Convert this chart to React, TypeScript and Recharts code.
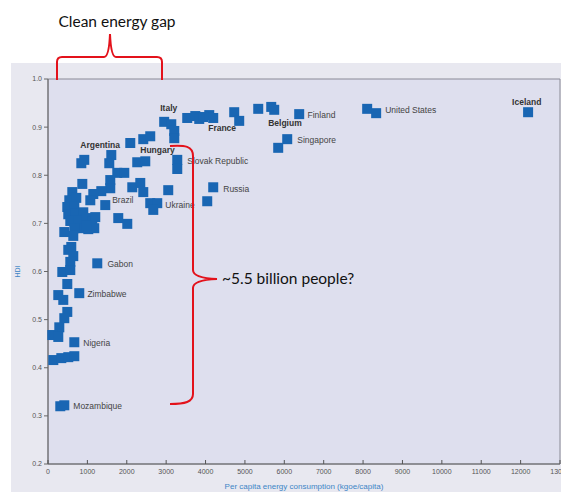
import { ScatterChart, Scatter, XAxis, YAxis, ZAxis, ReferenceArea } from "recharts"

// energy use (kgoe/capita) vs HDI
const countryPoints: [number, number][] = [
  [2950, 0.911], [3130, 0.906], [3206, 0.892], [3206, 0.877],
  [3535, 0.919], [3740, 0.923], [3840, 0.917], [3940, 0.921], [4094, 0.925], [4195, 0.919],
  [4728, 0.931], [4855, 0.913],
  [5338, 0.938], [5668, 0.942], [5744, 0.936],
  [6378, 0.927],
  [8104, 0.938], [8332, 0.929],
  [12190, 0.931],
  [6074, 0.875], [5845, 0.857],
  [2089, 0.867], [2419, 0.875], [2596, 0.881],
  [3282, 0.832], [3282, 0.813],
  [4195, 0.775], [4043, 0.746],
  [3053, 0.769], [2596, 0.742], [2774, 0.742], [2673, 0.728],
  [2140, 0.775], [2343, 0.784], [2419, 0.765],
  [1759, 0.805], [1937, 0.805],
  [1581, 0.79], [1581, 0.773],
  [1607, 0.842], [1556, 0.825],
  [2266, 0.827], [2470, 0.829],
  [1454, 0.738], [1784, 0.711], [2013, 0.699],
  [1353, 0.767], [1150, 0.761], [1074, 0.748],
  [846, 0.825], [921, 0.832],
  [871, 0.782], [617, 0.765],
  [541, 0.748], [718, 0.753], [490, 0.734], [668, 0.736], [515, 0.719], [693, 0.721],
  [896, 0.723], [566, 0.705], [769, 0.707], [972, 0.711], [1124, 0.703], [1200, 0.713],
  [820, 0.69], [1023, 0.688], [1175, 0.69], [668, 0.69], [972, 0.696],
  [414, 0.682], [642, 0.674], [591, 0.651],
  [515, 0.645], [642, 0.632], [566, 0.62],
  [1251, 0.617],
  [363, 0.599], [566, 0.603],
  [490, 0.574],
  [261, 0.551], [388, 0.541],
  [794, 0.555],
  [490, 0.516], [414, 0.503], [287, 0.484],
  [109, 0.468], [261, 0.464],
  [668, 0.453],
  [135, 0.416], [338, 0.42], [515, 0.422], [668, 0.424],
  [312, 0.32], [414, 0.322],
]

// where each country name starts (x, y in data units)
const countryLabels: { name: string; x: number; y: number }[] = [
  { name: "Italy", x: 2850, y: 0.94 },
  { name: "France", x: 4068, y: 0.898 },
  { name: "Belgium", x: 5591, y: 0.909 },
  { name: "Finland", x: 6590, y: 0.925 },
  { name: "United States", x: 8560, y: 0.936 },
  { name: "Iceland", x: 11784, y: 0.952 },
  { name: "Singapore", x: 6330, y: 0.873 },
  { name: "Argentina", x: 820, y: 0.863 },
  { name: "Hungary", x: 2343, y: 0.852 },
  { name: "Slovak Republic", x: 3536, y: 0.83 },
  { name: "Russia", x: 4450, y: 0.771 },
  { name: "Ukraine", x: 2980, y: 0.738 },
  { name: "Brazil", x: 1630, y: 0.748 },
  { name: "Gabon", x: 1510, y: 0.615 },
  { name: "Zimbabwe", x: 1000, y: 0.553 },
  { name: "Nigeria", x: 896, y: 0.451 },
  { name: "Mozambique", x: 643, y: 0.32 },
]

const boldNames = ["Italy", "France", "Belgium", "Argentina", "Hungary", "Iceland"]

const xTicks = [0, 1000, 2000, 3000, 4000, 5000, 6000, 7000, 8000, 9000, 10000, 11000, 12000, 13000]
const yTicks = [0.2, 0.3, 0.4, 0.5, 0.6, 0.7, 0.8, 0.9, 1.0]

const pointData = countryPoints.map(([energy, hdi]) => ({ energy, hdi }))
const labelData = countryLabels.map((l) => ({ energy: l.x, hdi: l.y, name: l.name }))

const BLUE = "#1966b3"

function XTick({ x, y, payload }: any) {
  return (
    <g>
      <line x1={x} x2={x} y1={y - 4} y2={y} stroke="#555" />
      <text x={x} y={y + 10} textAnchor="middle" fontSize={7} fill="#555" fontFamily="Liberation Sans">
        {payload.value}
      </text>
    </g>
  )
}

function SquareDot({ cx, cy }: any) {
  return <rect x={cx - 5} y={cy - 5} width={10} height={10} fill={BLUE} />
}

function NameText({ cx, cy, payload }: any) {
  const bold = boldNames.includes(payload.name)
  return (
    <text
      x={cx}
      y={cy}
      dominantBaseline="central"
      fontSize={8.5}
      fontWeight={bold ? "bold" : "normal"}
      fill={bold ? "#333" : "#444"}
      fontFamily="Liberation Sans"
    >
      {payload.name}
    </text>
  )
}

export default function App() {
  return (
    <div style={{ position: "relative", width: 561, height: 492, background: "#fff", overflow: "hidden" }}>
      <style>{`body{margin:0}`}</style>
      <div style={{ position: "absolute", left: 11, top: 63, right: 0, bottom: 0, background: "#e8e8f0" }} />
      <div style={{ position: "absolute", left: 0, top: 0 }}>
        <ScatterChart width={561} height={492} margin={{ top: 79, right: 1, left: 12, bottom: 0 }}>
          <ReferenceArea x1={0} x2={13000} y1={0.2} y2={1.0} fill="#dedfee" fillOpacity={1} stroke="#8a8a96" />
          <XAxis
            type="number"
            dataKey="energy"
            domain={[0, 13000]}
            ticks={xTicks}
            interval={0}
            height={28}
            tickSize={0}
            tickMargin={0}
            tickLine={false}
            tick={<XTick />}
            stroke="#666"
            label={{
              value: "Per capita energy consumption (kgoe/capita)",
              position: "insideBottom",
              offset: 3,
              fill: "#3d85c6",
              fontSize: 8,
              fontFamily: "Liberation Sans",
            }}
          />
          <YAxis
            type="number"
            dataKey="hdi"
            domain={[0.2, 1.0]}
            ticks={yTicks}
            interval={0}
            width={36}
            tickSize={4}
            tickFormatter={(v: number) => v.toFixed(1)}
            tick={{ fontSize: 7, fill: "#555", fontFamily: "Liberation Sans" }}
            stroke="#666"
            label={{
              value: "HDI",
              angle: -90,
              position: "insideLeft",
              offset: 6,
              fill: "#3d85c6",
              fontSize: 7,
              fontFamily: "Liberation Sans",
              style: { textAnchor: "middle" },
            }}
          />
          <ZAxis range={[100, 100]} />
          <Scatter data={pointData} shape={<SquareDot />} isAnimationActive={false} />
          <Scatter data={labelData} shape={<NameText />} isAnimationActive={false} />
        </ScatterChart>
      </div>
      <svg width={561} height={492} style={{ position: "absolute", left: 0, top: 0, pointerEvents: "none" }}>
        <path
          d="M57,80 L57,62 Q57,57 62,57 L104,57 Q109,57 110,34 Q111,57 116,57 L157,57 Q162,57 162,62 L162,80"
          fill="none"
          stroke="#e3121b"
          strokeWidth={2}
        />
        <path
          d="M170,146 C185,145 193,146 193,156 L193,270 Q193,278 217,279 Q193,280 193,288 L193,394 C193,402 185,404 170,404"
          fill="none"
          stroke="#e3121b"
          strokeWidth={2}
        />
        <text x={117} y={27} textAnchor="middle" fontSize={15.5} fontFamily="Lato" fill="#111">
          Clean energy gap
        </text>
        <text x={222} y={284} fontSize={15.5} fontFamily="Lato" fill="#111">
          ~5.5 billion people?
        </text>
      </svg>
    </div>
  )
}
